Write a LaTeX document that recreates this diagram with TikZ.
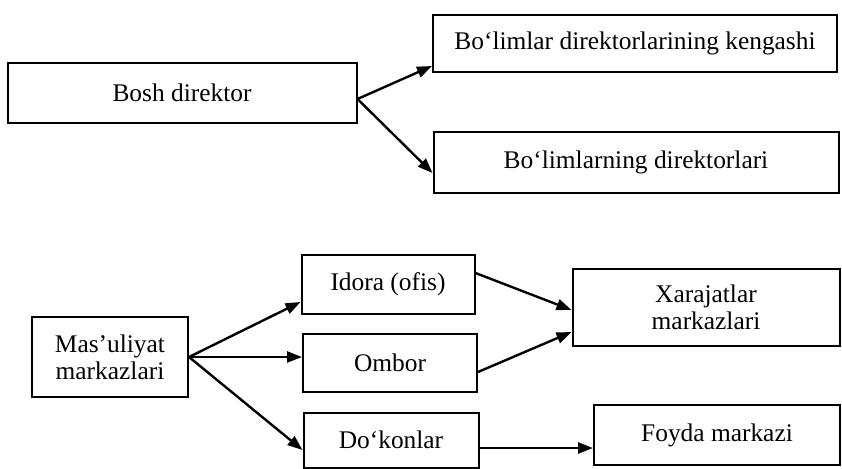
\documentclass[tikz,border=0pt]{standalone}
\usepackage{fontspec}
\setmainfont{Liberation Serif}
\usepackage{tikz}
\usetikzlibrary{arrows.meta, positioning}

\begin{document}
\begin{tikzpicture}[
          x=0.5pt, y=0.5pt,
          font=\fontsize{12.7}{13.5}\selectfont,
          box/.style={draw, line width=1pt, inner sep=0pt, align=center},
          link/.style={line width=1.2pt, -{Triangle[length=7.5pt, width=5.5pt]}}
        ]
          \useasboundingbox (0,0) rectangle (842,468);

          % top scheme
          \node (bosh) [box, minimum width=174.5pt, minimum height=30pt] at (182,375) {Bosh direktor};
          \node (kengash) [box, minimum width=202pt, minimum height=28.5pt] at (635,425) {Bo‘limlar direktorlarining kengashi};
          \node (direktor) [box, minimum width=202.5pt, minimum height=30.5pt] at (636,306) {Bo‘limlarning direktorlari};

          \draw[link] ([yshift=-3pt]bosh.east) -- ([yshift=-11.5pt]kengash.west);
          \draw[link] ([yshift=-3pt]bosh.east) -- ([yshift=-5.5pt]direktor.west);

          % bottom scheme
          \node (masul) [box, minimum width=78pt, minimum height=40pt] at (110,111) {Mas’uliyat\\markazlari};
          \node (idora) [box, minimum width=86.5pt, minimum height=29.5pt] at (388,184) {Idora (ofis)};
          \node (ombor) [box, minimum width=87pt, minimum height=29pt] at (390,105) {Ombor};
          \node (dokon) [box, minimum width=87.5pt, minimum height=27.5pt] at (391,28) {Do‘konlar};
          \node (xarajat) [box, minimum width=133.5pt, minimum height=38.5pt] at (706,161) {Xarajatlar\\markazlari};
          \node (foyda) [box, minimum width=123pt, minimum height=30pt] at (717,33) {Foyda markazi};

          \draw[link] (masul.east) -- ([yshift=-9pt]idora.west);
          \draw[link] (masul.east) -- (masul.east -| ombor.west);
          \draw[link] (masul.east) -- ([yshift=-5pt]dokon.west);
          \draw[link] ([yshift=5.5pt]idora.east) -- ([yshift=-1.5pt]xarajat.west);
          \draw[link] ([yshift=-4.5pt]ombor.east) -- ([yshift=-12.5pt]xarajat.west);
          \draw[link] ([yshift=-4pt]dokon.east) -- ([yshift=-4pt]dokon.east -| foyda.west);
        \end{tikzpicture}
\end{document}
